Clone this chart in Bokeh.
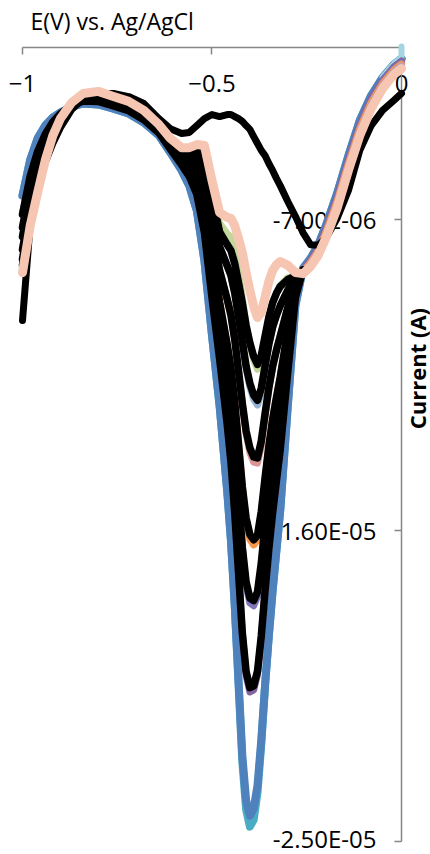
import math
from bokeh.plotting import figure
from bokeh.models import LinearAxis, FixedTicker, Range1d, CustomJSTickFormatter
from bokeh.core.properties import value
from bokeh.embed import file_html
from bokeh.resources import INLINE

# ---------------- data (potential in V, current in microamperes) ----------------
E = [-1.00, -0.98, -0.96, -0.94, -0.92, -0.90, -0.87, -0.84, -0.80, -0.76,
     -0.72, -0.68, -0.64, -0.61, -0.58, -0.56, -0.54, -0.52, -0.50, -0.48,
     -0.46, -0.45, -0.44, -0.43, -0.42, -0.41, -0.40, -0.39, -0.38, -0.37,
     -0.36, -0.35, -0.34, -0.33, -0.32, -0.30, -0.28, -0.26, -0.24, -0.22,
     -0.20, -0.17, -0.14, -0.11, -0.08, -0.05, -0.02, 0.00]

peach = [-8.53, -7.19, -6.21, -5.28, -4.56, -4.07, -3.60, -3.34, -3.28, -3.43,
         -3.57, -3.83, -4.24, -4.64, -4.91, -4.91, -4.82, -4.85, -5.86, -6.79,
         -6.93, -6.96, -7.17, -7.54, -7.95, -8.53, -9.05, -9.51, -9.83, -9.69,
         -9.25, -8.79, -8.47, -8.30, -8.21, -8.32, -8.53, -8.56, -8.35, -8.03,
         -7.54, -6.67, -5.57, -4.56, -3.78, -3.20, -2.79, -2.62]

pale_green = [-8.40, -7.08, -6.10, -5.22, -4.53, -4.06, -3.61, -3.36, -3.31, -3.46,
              -3.60, -3.86, -4.26, -4.67, -4.96, -4.98, -4.93, -5.05, -6.10, -7.10,
              -7.40, -7.50, -7.85, -8.50, -9.25, -10.05, -10.62, -11.06, -11.33, -11.08,
              -10.50, -9.90, -9.42, -9.12, -8.90, -8.68, -8.62, -8.56, -8.35, -8.02,
              -7.53, -6.66, -5.56, -4.55, -3.77, -3.19, -2.78, -2.62]

light_blue = [-8.14, -6.85, -5.93, -5.10, -4.47, -4.04, -3.62, -3.39, -3.35, -3.49,
              -3.63, -3.89, -4.30, -4.71, -5.03, -5.11, -5.16, -5.44, -6.66, -7.78,
              -8.33, -8.61, -9.12, -9.81, -10.53, -11.30, -11.84, -12.20, -12.37, -12.02,
              -11.33, -10.60, -10.11, -9.77, -9.49, -9.04, -8.70, -8.53, -8.31, -7.98,
              -7.48, -6.59, -5.49, -4.48, -3.71, -3.14, -2.74, -2.57]

pink = [-7.86, -6.62, -5.74, -4.98, -4.40, -4.02, -3.64, -3.43, -3.39, -3.54,
        -3.68, -3.94, -4.34, -4.76, -5.11, -5.24, -5.39, -5.85, -7.21, -8.47,
        -9.30, -9.76, -10.47, -11.38, -12.32, -13.20, -13.74, -14.02, -14.05, -13.55,
        -12.72, -11.87, -11.25, -10.78, -10.37, -9.54, -8.82, -8.52, -8.28, -7.94,
        -7.44, -6.54, -5.44, -4.43, -3.67, -3.10, -2.70, -2.53]

orange = [-7.49, -6.30, -5.48, -4.81, -4.32, -3.99, -3.66, -3.48, -3.46, -3.59,
          -3.73, -3.99, -4.39, -4.83, -5.22, -5.42, -5.71, -6.40, -7.95, -9.39,
          -10.61, -11.30, -12.29, -13.50, -14.73, -15.74, -16.26, -16.42, -16.28, -15.56,
          -14.56, -13.56, -12.78, -12.15, -11.56, -10.21, -8.97, -8.49, -8.24, -7.90,
          -7.38, -6.47, -5.37, -4.36, -3.60, -3.05, -2.66, -2.49]

purple = [-7.22, -6.07, -5.29, -4.69, -4.26, -3.96, -3.67, -3.51, -3.50, -3.64,
          -3.78, -4.04, -4.43, -4.88, -5.30, -5.56, -5.94, -6.80, -8.49, -10.07,
          -11.57, -12.43, -13.62, -15.05, -16.49, -17.60, -18.10, -18.18, -17.92, -17.06,
          -15.92, -14.80, -13.90, -13.15, -12.44, -10.70, -9.09, -8.47, -8.22, -7.86,
          -7.34, -6.42, -5.32, -4.30, -3.56, -3.01, -2.62, -2.45]

lavender = [-6.84, -5.75, -5.02, -4.52, -4.17, -3.93, -3.69, -3.56, -3.57, -3.70,
            -3.84, -4.10, -4.48, -4.95, -5.41, -5.74, -6.26, -7.37, -9.25, -11.02,
            -12.91, -14.01, -15.49, -17.22, -18.97, -20.20, -20.68, -20.62, -20.18, -19.14,
            -17.80, -16.54, -15.48, -14.56, -13.66, -11.39, -9.25, -8.45, -8.18, -7.81,
            -7.28, -6.35, -5.25, -4.23, -3.49, -2.96, -2.57, -2.40]

blue = [-6.30, -5.28, -4.64, -4.27, -4.04, -3.89, -3.72, -3.63, -3.66, -3.78,
        -3.92, -4.18, -4.56, -5.05, -5.57, -6.01, -6.73, -8.18, -10.35, -12.38,
        -14.84, -16.29, -18.17, -20.35, -22.52, -23.82, -24.26, -24.05, -23.39, -22.08,
        -20.49, -19.04, -17.74, -16.58, -15.42, -12.38, -9.48, -8.41, -8.12, -7.74,
        -7.19, -6.24, -5.14, -4.12, -3.40, -2.88, -2.50, -2.33]

teal = [-6.30, -5.28, -4.64, -4.27, -4.04, -3.89, -3.72, -3.63, -3.66, -3.78,
        -3.92, -4.18, -4.56, -5.05, -5.57, -6.01, -6.73, -8.18, -10.35, -12.38,
        -14.84, -16.29, -18.17, -20.45, -22.70, -24.08, -24.58, -24.38, -23.60, -22.20,
        -20.49, -19.04, -17.74, -16.58, -15.42, -12.38, -9.48, -8.41, -8.12, -7.74,
        -7.19, -6.24, -5.14, -4.12, -3.40, -2.88, -2.50, -2.33]

# short light-aqua trace ending with a jump at 0 V
aqua_E = [-0.05, -0.02, 0.00, 0.00]
aqua = [-2.86, -2.47, -2.30, -1.98]

# black scans (visible up to about -0.26 V)
black_1 = [-8.31, -7.00, -6.05, -5.18, -4.51, -4.05, -3.61, -3.37, -3.32, -3.47,
           -3.61, -3.87, -4.27, -4.68, -4.98, -5.02, -5.01, -5.18, -6.31, -7.35,
           -7.72, -7.89, -8.27, -8.82, -9.41, -10.06, -10.57, -10.96, -11.19, -10.93,
           -10.37, -9.82, -9.40, -9.13, -8.93, -8.73, -8.63, -8.55]
black_2 = [-8.14, -6.85, -5.93, -5.10, -4.47, -4.04, -3.62, -3.39, -3.35, -3.49,
           -3.63, -3.89, -4.30, -4.71, -5.03, -5.11, -5.16, -5.44, -6.66, -7.78,
           -8.33, -8.61, -9.12, -9.81, -10.53, -11.24, -11.74, -12.08, -12.23, -11.88,
           -11.24, -10.60, -10.11, -9.77, -9.49, -9.04, -8.70, -8.53]
black_3 = [-7.86, -6.62, -5.74, -4.98, -4.40, -4.02, -3.64, -3.43, -3.39, -3.54,
           -3.68, -3.94, -4.34, -4.76, -5.11, -5.24, -5.39, -5.85, -7.21, -8.47,
           -9.30, -9.76, -10.47, -11.38, -12.32, -13.12, -13.61, -13.87, -13.90, -13.41,
           -12.62, -11.87, -11.25, -10.78, -10.37, -9.54, -8.82, -8.52]
black_4 = [-7.49, -6.30, -5.48, -4.81, -4.32, -3.99, -3.66, -3.48, -3.46, -3.59,
           -3.73, -3.99, -4.39, -4.83, -5.22, -5.42, -5.71, -6.40, -7.95, -9.39,
           -10.61, -11.30, -12.29, -13.50, -14.73, -15.64, -16.12, -16.27, -16.14, -15.45,
           -14.48, -13.56, -12.78, -12.15, -11.56, -10.21, -8.97, -8.49]
black_5 = [-7.22, -6.07, -5.29, -4.69, -4.26, -3.96, -3.67, -3.51, -3.50, -3.64,
           -3.78, -4.04, -4.43, -4.88, -5.30, -5.56, -5.94, -6.80, -8.49, -10.07,
           -11.57, -12.43, -13.62, -15.05, -16.49, -17.49, -17.96, -18.03, -17.78, -16.95,
           -15.84, -14.80, -13.90, -13.15, -12.44, -10.70, -9.09, -8.47]
black_6 = [-6.84, -5.75, -5.02, -4.52, -4.17, -3.93, -3.69, -3.56, -3.57, -3.70,
           -3.84, -4.10, -4.48, -4.95, -5.41, -5.74, -6.26, -7.37, -9.25, -11.02,
           -12.91, -14.01, -15.49, -17.22, -18.97, -20.09, -20.55, -20.50, -20.08, -19.06,
           -17.75, -16.54, -15.48, -14.56, -13.66, -11.39, -9.25, -8.45]

# blank (different shape) black scan
black_blank = [-9.92, -7.17, -6.06, -5.34, -4.79, -4.33, -3.80, -3.49, -3.34, -3.34,
               -3.43, -3.63, -4.07, -4.36, -4.50, -4.47, -4.27, -4.07, -3.95, -4.01,
               -3.95, -3.95, -4.01, -4.07, -4.15, -4.27, -4.38, -4.59, -4.79, -4.99,
               -5.14, -5.37, -5.57, -5.80, -6.01, -6.47, -6.90, -7.37, -7.72, -7.74,
               -7.54, -6.96, -6.15, -4.99, -4.27, -3.83, -3.54, -3.34]

x_ticks = [-1, -0.5, 0]
y_ticks = [-2.5e-5, -1.6e-5, -7e-6]
UA = 1e-6
FONT = "Open Sans"

# ---------------- figure ----------------
p = figure(width=430, height=854, output_backend="svg", toolbar_location=None,
           x_axis_location=None, y_axis_location=None, min_border=0,
           x_range=Range1d(-1.05805, 0.07652),
           y_range=Range1d(-25.387e-6, -0.6472e-6))
p.outline_line_color = None
p.grid.visible = False
p.background_fill_color = "white"
p.border_fill_color = "white"

AX = "#868686"
xax = LinearAxis(fixed_location=-2e-6, bounds=(-1, 0), ticker=FixedTicker(ticks=x_ticks),
                 major_tick_out=7, major_tick_in=0, minor_tick_out=0, minor_tick_in=0,
                 axis_line_color=AX, axis_line_width=1.5,
                 major_tick_line_color=AX, major_tick_line_width=1.5,
                 major_label_text_font=FONT, major_label_text_font_size="24px",
                 major_label_text_color="#000000", major_label_standoff=21)
p.add_layout(xax, "below")

fmt = CustomJSTickFormatter(code="""
const s = tick.toExponential(2).toUpperCase();
const m = s.match(/^(.*E)([+-])(\\d+)$/);
if (m == null) { return s; }
const d = m[3].length < 2 ? "0" + m[3] : m[3];
return m[1] + m[2] + d;
""")
yax = LinearAxis(fixed_location=0, bounds=(-25e-6, -2e-6), ticker=FixedTicker(ticks=y_ticks),
                 formatter=fmt,
                 major_tick_out=7, major_tick_in=0, minor_tick_out=0, minor_tick_in=0,
                 axis_line_color=AX, axis_line_width=1.5,
                 major_tick_line_color=AX, major_tick_line_width=1.5,
                 major_label_text_font=FONT, major_label_text_font_size="24px",
                 major_label_text_color="#000000", major_label_standoff=18)
p.add_layout(yax, "left")


def draw(ys, color, width, xs=None):
    xs = E[:len(ys)] if xs is None else xs
    p.line(xs, [v * UA for v in ys], line_color=color, line_width=width,
           line_join="round", line_cap="round", level="overlay")


draw(teal, "#4BACC6", 8)
draw(blue, "#4F81BD", 8)
draw(aqua, "#A5D5E2", 6, aqua_E)
draw(lavender, "#8064A2", 7)
draw(purple, "#7F74B8", 7)
draw(orange, "#F79646", 7)
draw(pink, "#D99694", 7)
draw(light_blue, "#95B3D7", 7)
draw(pale_green, "#C4D79B", 7)
for b in (black_6, black_5, black_4, black_3, black_2, black_1):
    draw(b, "#000000", 7.5)
draw(black_blank, "#000000", 7)
draw(peach, "#F6C6B2", 9)

# axis titles
p.text(x=[-0.9790], y=[-1.2266e-6], text=["E(V) vs. Ag/AgCl"],
       text_font=value(FONT), text_font_size="23px", text_color="#000000",
       text_align="left", text_baseline="middle")
p.text(x=[0.0396], y=[-11.31e-6], text=["Current (A)"], angle=math.pi / 2,
       text_font=value(FONT), text_font_size="22px", text_font_style="bold",
       text_color="#000000", text_align="center", text_baseline="middle")

open("out.html", "w").write(file_html(p, INLINE))
